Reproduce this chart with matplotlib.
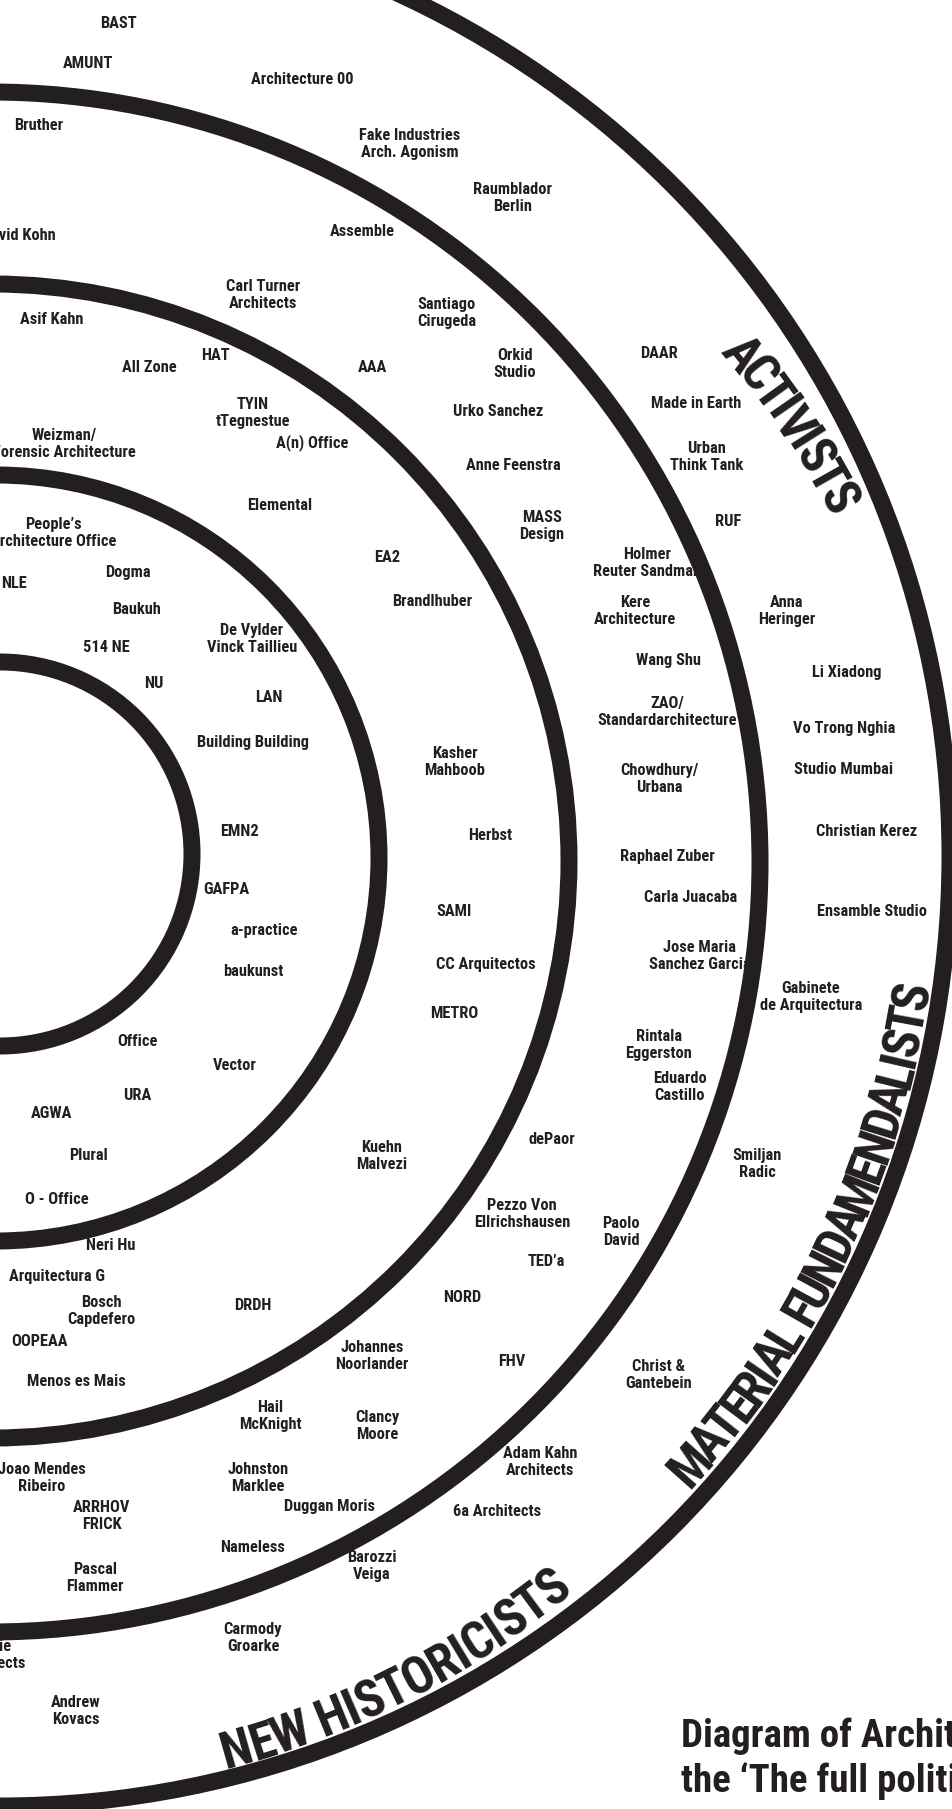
import numpy as np
import matplotlib
matplotlib.use("Agg")
import matplotlib.pyplot as plt
from matplotlib import font_manager
from matplotlib.patches import Circle

INK = "#231f20"

# rings (pixel units, y grows downwards)
ring_cx = [0, -4, -8, -10, 0]
ring_cy = [854, 858, 861, 862, 856]
ring_r = [192, 383, 577, 770, 950]

# offices between ring 1 and ring 2
band_a_names = ["People’s\nArchitecture Office", "Dogma", "NLE", "Baukuh",
                "De Vylder\nVinck Taillieu", "514 NE", "NU", "LAN",
                "Building Building", "EMN2", "GAFPA", "a-practice", "baukunst",
                "Office", "Vector", "URA", "AGWA", "Plural", "O - Office"]
band_a_x = [53, 128, 14, 137, 252, 106, 154, 269, 253, 239, 226, 264, 253,
            137, 235, 137, 52, 89, 57]
band_a_y = [533, 573, 584, 609, 639, 648, 684, 697, 742, 832, 890, 930, 971,
            1042, 1065, 1095, 1113, 1155, 1200]

# between ring 2 and ring 3
band_b_names = ["Asif Kahn", "HAT", "All Zone", "TYIN\ntTegnestue", "A(n) Office",
                "Weizman/\nForensic Architecture", "Elemental", "EA2",
                "Brandlhuber", "Kasher\nMahboob", "Herbst", "SAMI",
                "CC Arquitectos", "METRO", "Kuehn\nMalvezi", "Neri Hu",
                "Arquitectura G", "DRDH", "Bosch\nCapdefero", "OOPEAA",
                "Menos es Mais"]
band_b_x = [52, 215, 149, 253, 312, 64, 280, 387, 432, 455, 490, 454, 486, 454,
            382, 111, 57, 253, 101, 40, 76]
band_b_y = [319, 355, 368, 413, 443, 444, 506, 557, 602, 762, 835, 912, 965,
            1014, 1156, 1246, 1276, 1305, 1311, 1341, 1381]

# between ring 3 and ring 4
band_c_names = ["Bruther", "David Kohn", "Assemble", "Carl Turner\nArchitects",
                "Santiago\nCirugeda", "AAA", "Orkid\nStudio", "Urko Sanchez",
                "Anne Feenstra", "MASS\nDesign", "Holmer\nReuter Sandman",
                "Kere\nArchitecture", "Wang Shu", "ZAO/\nStandardarchitecture",
                "Chowdhury/\nUrbana", "Raphael Zuber", "Carla Juacaba",
                "Jose Maria\nSanchez Garcia", "Rintala\nEggerston",
                "Eduardo\nCastillo", "dePaor", "Pezzo Von\nEllrichshausen",
                "Paolo\nDavid", "TED’a", "NORD", "Johannes\nNoorlander", "FHV",
                "Hail\nMcKnight", "Clancy\nMoore", "Joao Mendes\nRibeiro",
                "Johnston\nMarklee", "ARRHOV\nFRICK", "Duggan Moris", "Nameless",
                "Pascal\nFlammer"]
band_c_x = [39, 19, 362, 263, 447, 372, 515, 498, 513, 542, 647, 635, 668, 667,
            659, 667, 691, 700, 659, 680, 552, 522, 621, 546, 462, 372, 512,
            270, 377, 42, 258, 102, 330, 253, 95]
band_c_y = [126, 235, 231, 295, 313, 368, 364, 412, 465, 526, 563, 611, 661,
            712, 779, 857, 897, 956, 1045, 1087, 1139, 1214, 1232, 1262, 1297,
            1356, 1362, 1416, 1426, 1478, 1478, 1516, 1507, 1548, 1578]

# between ring 4 and ring 5
band_d_names = ["BAST", "AMUNT", "Architecture 00", "Fake Industries\nArch. Agonism",
                "Raumblador\nBerlin", "DAAR", "Made in Earth", "Urban\nThink Tank",
                "RUF", "Anna\nHeringer", "Li Xiadong", "Vo Trong Nghia",
                "Studio Mumbai", "Christian Kerez", "Ensamble Studio",
                "Gabinete\nde Arquitectura", "Smiljan\nRadic", "Christ &\nGantebein",
                "Adam Kahn\nArchitects", "6a Architects", "Barozzi\nVeiga",
                "Jamie\nArchitects", "Carmody\nGroarke", "Andrew\nKovacs"]
band_d_x = [118, 88, 302, 410, 513, 659, 696, 707, 728, 787, 847, 844, 844, 867,
            872, 811, 757, 659, 540, 497, 372, -8, 253, 76]
band_d_y = [23, 64, 80, 144, 198, 354, 404, 457, 522, 611, 672, 729, 770, 832,
            911, 997, 1164, 1375, 1462, 1512, 1566, 1655, 1638, 1711]

# curved group names: first / last letter angle (deg) and radius
group_names = ["ACTIVISTS", "MATERIAL FUNDAMENDALISTS", "NEW HISTORICISTS"]
group_theta0 = [34.1, -41.4, -75.2]
group_theta1 = [23.1, -8.7, -52.9]
group_r0 = [898, 918, 922]
group_r1 = [913, 920, 915]

title_lines = ["Diagram of Architecture from", "the ‘The full political spectrum’"]

# pick a condensed face if one is installed
installed = {f.name for f in font_manager.fontManager.ttflist}
FONT = "Liberation Sans"
for cand in ["Liberation Sans Narrow", "Roboto Condensed", "DejaVu Sans Condensed",
             "Open Sans Condensed"]:
    if cand in installed:
        FONT = cand
        break

fig = plt.figure(figsize=(9.53, 18.09), dpi=100)
ax = fig.add_axes([0, 0, 1, 1])
ax.set_xlim(0, 953)
ax.set_ylim(1809, 0)
ax.axis("off")

for cx, cy, r in zip(ring_cx, ring_cy, ring_r):
    ax.add_patch(Circle((cx, cy), r, fill=False, lw=17 * 0.72, color=INK, zorder=3))

for nm, xs, ys in [(band_a_names, band_a_x, band_a_y), (band_b_names, band_b_x, band_b_y),
                   (band_c_names, band_c_x, band_c_y), (band_d_names, band_d_x, band_d_y)]:
    for n, x, y in zip(nm, xs, ys):
        ax.text(x, y, n, ha="center", va="center", fontsize=11.8, family=FONT,
                fontweight="heavy", color=INK, linespacing=1.22, zorder=2)


def arc_text(text, th0, th1, r0, r1, size_px, center=(0, 856)):
    prop = font_manager.FontProperties(family=FONT, weight="heavy", size=size_px * 0.72)
    rend = fig.canvas.get_renderer()

    def width(s):
        return rend.get_text_width_height_descent(s, prop, ismath=False)[0]

    space = width("I I") - width("II")
    w = np.array([space if c == " " else width(c) for c in text])
    mid = np.cumsum(w) - w / 2
    t = (mid - mid[0]) / (mid[-1] - mid[0])
    th = np.radians(th0 + t * (th1 - th0))
    r = r0 + t * (r1 - r0)
    dth = np.radians(th1 - th0)
    dx = (r1 - r0) * np.cos(th) - r * np.sin(th) * dth
    dy = (r1 - r0) * np.sin(th) + r * np.cos(th) * dth
    phi = np.arctan2(dy, dx)
    cap = 0.71 * size_px
    px = r * np.cos(th) + cap / 2 * np.sin(phi)
    py = r * np.sin(th) - cap / 2 * np.cos(phi)
    for ch, x, y, a in zip(text, px, py, np.degrees(phi)):
        ax.text(center[0] + x, center[1] - y, ch, fontproperties=prop, color=INK,
                rotation=a, rotation_mode="anchor", ha="center", va="baseline", zorder=2)


for g, a0, a1, r0, r1 in zip(group_names, group_theta0, group_theta1, group_r0, group_r1):
    arc_text(g, a0, a1, r0, r1, 51)

for i, line in enumerate(title_lines):
    ax.text(681, 1747 + 45 * i, line, ha="left", va="baseline", fontsize=28,
            family=FONT, fontweight="heavy", color=INK)

fig.savefig("out.png", dpi=100)
